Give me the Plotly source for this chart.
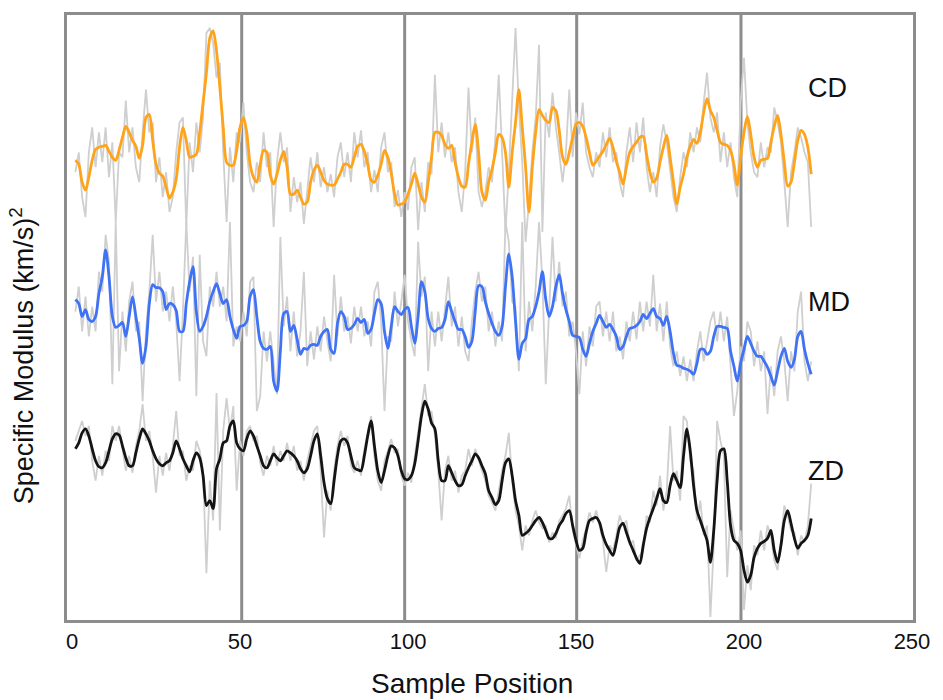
import plotly.graph_objects as go

# Sample positions along the specimen
samples = list(range(1, 221))

# CD direction: raw measurements and smoothed trend
cd_raw = [
    450,
    470, 425, 405, 470, 495, 455, 490, 460, 495, 445,
    480, 400, 470, 465, 522, 470, 495, 455, 440, 490,
    533, 490, 500, 440, 465, 425, 450, 410, 425, 470,
    500, 505, 395, 480, 450, 500, 470, 505, 590, 595,
    580, 545, 560, 470, 400, 475, 440, 490, 480, 520,
    470, 440, 430, 460, 440, 490, 455, 470, 395, 460,
    490, 460, 475, 410, 445, 420, 440, 398, 430, 465,
    440, 470, 435, 455, 430, 448, 425, 465, 480, 445,
    470, 440, 490, 465, 492, 455, 470, 430, 452, 430,
    475, 490, 450, 460, 415, 432, 405, 430, 412, 455,
    465, 392, 440, 410, 460, 448, 548, 470, 500, 465,
    490, 460, 475, 430, 410, 450, 535, 470, 505, 430,
    415, 430, 455, 440, 485, 548, 470, 390, 450, 520,
    595, 515, 460, 380, 420, 470, 505, 578, 390, 510,
    485, 530, 495, 470, 440, 470, 533, 465, 510, 488,
    520, 470, 455, 445, 470, 455, 490, 465, 495, 460,
    470, 440, 425, 470, 495, 460, 500, 470, 505, 455,
    430, 450, 425, 475, 498, 480, 450, 425, 410, 445,
    470, 455, 490, 470, 495, 480, 520, 550, 505, 490,
    510, 460, 490, 455, 480, 445, 425, 520, 565, 500,
    470, 450, 445, 480, 455, 475, 470, 515, 500, 480,
    440, 395, 450, 470, 495, 485, 470, 460, 395,
]
cd_smooth = [
    462,
    458, 440, 432, 445, 462, 473, 475, 476, 477, 471,
    465, 462, 472, 485, 496, 490, 482, 476, 464, 477,
    505, 508, 482, 458, 449, 446, 435, 424, 430, 443,
    475, 495, 482, 465, 466, 468, 490, 520, 550, 585,
    592, 572, 535, 495, 460, 457, 457, 472, 495, 505,
    490, 458, 445, 440, 458, 472, 470, 447, 438, 448,
    462, 471, 455, 428, 428, 432, 425, 418, 420, 440,
    452, 457, 450, 442, 438, 437, 437, 443, 450, 458,
    458, 455, 465, 476, 478, 471, 458, 442, 440, 447,
    458, 472, 465, 449, 428, 417, 418, 420, 428, 438,
    449, 438, 425, 420, 440, 465, 490, 490, 487, 478,
    474, 477, 460, 445, 436, 435, 458, 480, 498, 470,
    430, 422, 440, 453, 470, 488, 485, 470, 435, 470,
    500, 533, 495, 455, 410, 455, 490, 513, 507, 502,
    500, 515, 512, 492, 465, 458, 470, 485, 498, 500,
    496, 485, 470, 457, 461, 466, 471, 478, 484, 475,
    461, 450, 438, 455, 470, 476, 480, 485, 486, 468,
    450, 440, 444, 460, 475, 487, 465, 440, 418, 435,
    448, 465, 476, 483, 479, 490, 510, 524, 512, 505,
    492, 480, 478, 477, 472, 458, 437, 465, 490, 506,
    488, 465, 455, 462, 463, 464, 480, 496, 507, 488,
    460, 436, 440, 460, 482, 492, 488, 475, 448,
]

# MD direction
md_raw = [
    310,
    335, 290, 325, 285, 315, 290, 350, 330, 387, 360,
    237, 400, 250, 310, 270, 320, 340, 290, 300, 220,
    290, 330, 387, 320, 350, 310, 330, 300, 335, 300,
    240, 310, 400, 330, 365, 225, 367, 280, 265, 335,
    315, 350, 315, 335, 300, 400, 275, 295, 280, 310,
    285, 340, 345, 210, 225, 290, 260, 290, 255, 227,
    385, 295, 325, 270, 310, 265, 290, 350, 255, 290,
    262, 295, 270, 305, 280, 260, 347, 285, 325, 290,
    305, 278, 315, 290, 315, 285, 300, 275, 330, 340,
    300, 210, 285, 280, 330, 295, 320, 347, 300, 280,
    265, 380, 325, 345, 250, 310, 275, 310, 280, 315,
    345, 295, 315, 275, 305, 270, 260, 300, 330, 350,
    320, 335, 290, 310, 275, 300, 280, 400, 380, 320,
    315, 250, 400, 270, 320, 290, 335, 400, 340, 237,
    320, 385, 320, 360, 315, 330, 285, 300, 270, 227,
    290, 255, 295, 275, 315, 320, 285, 310, 280, 310,
    270, 285, 262, 300, 280, 310, 282, 320, 290, 320,
    295, 347, 290, 318, 280, 320, 275, 255, 270, 245,
    265, 240, 262, 240, 270, 290, 260, 280, 300, 310,
    280, 310, 280, 305, 250, 205, 230, 275, 260, 300,
    290, 255, 280, 250, 270, 207, 255, 225, 270, 285,
    260, 220, 270, 250, 310, 330, 260, 240, 260,
]
md_smooth = [
    322,
    318, 305, 312, 302, 300, 305, 328, 345, 372, 345,
    305, 294, 296, 299, 285, 305, 325, 305, 283, 258,
    275, 318, 337, 334, 334, 330, 312, 318, 317, 311,
    290, 290, 318, 340, 355, 310, 290, 295, 305, 320,
    330, 338, 328, 318, 322, 305, 292, 283, 295, 296,
    300, 325, 332, 305, 280, 273, 272, 275, 240, 230,
    270, 308, 310, 290, 296, 282, 267, 273, 272, 276,
    277, 276, 285, 290, 292, 272, 268, 298, 310, 305,
    292, 293, 297, 303, 299, 302, 288, 292, 308, 322,
    318, 290, 273, 295, 315, 310, 307, 312, 314, 295,
    278, 305, 340, 330, 303, 293, 290, 293, 294, 302,
    320, 310, 300, 292, 292, 285, 274, 280, 310, 336,
    335, 320, 308, 298, 290, 286, 295, 335, 368, 345,
    300, 262, 278, 283, 302, 305, 315, 330, 350, 322,
    305, 315, 335, 347, 328, 312, 300, 286, 285, 284,
    272, 265, 278, 290, 298, 306, 300, 294, 297, 292,
    285, 272, 275, 285, 293, 294, 296, 300, 307, 303,
    308, 313, 305, 303, 296, 305, 290, 268, 256, 255,
    253, 252, 250, 247, 258, 272, 272, 267, 270, 285,
    295, 295, 294, 293, 270, 255, 240, 258, 272, 285,
    278, 270, 265, 265, 260, 254, 245, 236, 250, 265,
    273, 260, 254, 262, 285, 290, 272, 258, 247,
]

# ZD direction
zd_raw = [
    180,
    190, 200, 185, 195, 160, 140, 165, 145, 170, 160,
    195, 180, 195, 170, 150, 165, 148, 175, 190, 217,
    180, 190, 165, 128, 165, 145, 168, 150, 175, 210,
    165, 170, 140, 155, 150, 180, 170, 150, 47, 140,
    100, 228, 90, 190, 223, 190, 215, 130, 180, 165,
    190, 195, 180, 185, 158, 145, 165, 155, 175, 155,
    170, 160, 178, 160, 175, 150, 160, 140, 160, 175,
    190, 195, 150, 83, 130, 110, 150, 175, 190, 175,
    185, 155, 148, 160, 145, 172, 190, 205, 165, 140,
    130, 160, 170, 182, 168, 172, 145, 135, 148, 138,
    165, 190, 215, 237, 205, 210, 185, 150, 100, 150,
    165, 140, 150, 128, 145, 150, 172, 155, 172, 160,
    150, 140, 125, 118, 110, 130, 150, 165, 188, 140,
    110, 95, 70, 95, 85, 100, 110, 98, 92, 95,
    78, 88, 82, 100, 105, 112, 125, 90, 75, 62,
    80, 92, 108, 98, 110, 95, 80, 48, 75, 70,
    85, 105, 95, 100, 75, 80, 60, 65, 70, 105,
    98, 130, 115, 145, 110, 130, 195, 140, 150, 120,
    205, 200, 160, 150, 100, 120, 85, 95, 3, 75,
    200, 180, 165, 43, 110, 90, 70, 90, 10, 55,
    30, 75, 65, 90, 70, 95, 85, 60, 50, 80,
    115, 105, 90, 88, 65, 85, 78, 95, 137,
]
zd_smooth = [
    172,
    178, 188, 192, 185, 172, 160, 154, 153, 158, 170,
    182, 187, 186, 175, 163, 155, 155, 168, 182, 192,
    187, 180, 170, 162, 157, 155, 158, 160, 168, 180,
    172, 162, 155, 149, 160, 168, 163, 145, 115, 120,
    112, 152, 162, 178, 180, 195, 200, 178, 172, 170,
    182, 190, 185, 175, 165, 155, 153, 160, 167, 163,
    160, 165, 170, 168, 165, 160, 152, 148, 152, 165,
    180, 187, 165, 138, 122, 117, 140, 165, 180, 182,
    178, 165, 153, 151, 150, 165, 185, 200, 175, 150,
    138, 150, 165, 175, 173, 165, 150, 142, 141, 145,
    157, 180, 205, 220, 212, 198, 192, 160, 140, 140,
    155, 148, 140, 135, 136, 145, 153, 160, 167, 163,
    155, 147, 130, 123, 116, 120, 140, 158, 162, 145,
    120, 105, 85, 87, 90, 95, 100, 103, 98, 90,
    82, 82, 87, 95, 100, 107, 110, 95, 80, 70,
    72, 88, 100, 102, 103, 98, 85, 76, 70, 65,
    78, 93, 97, 88, 78, 70, 62, 57, 75, 92,
    103, 112, 122, 132, 120, 118, 135, 147, 140, 133,
    165, 192, 170, 135, 110, 100, 90, 80, 58, 90,
    140, 170, 172, 140, 95, 80, 77, 70, 50, 38,
    45, 63, 72, 77, 79, 82, 90, 70, 58, 75,
    100, 110, 97, 82, 72, 77, 80, 85, 102,
]

directions = ["CD", "MD", "ZD"]
label_heights = [535, 320, 150]
section_breaks = [50.5, 99, 150.2, 199.1]
x_ticks = [0, 50, 100, 150, 200, 250]

raw_series = [cd_raw, md_raw, zd_raw]
smooth_series = [cd_smooth, md_smooth, zd_smooth]
smooth_colors = ["#FFA31A", "#3F72F5", "#141414"]

FONT = "Liberation Sans, Arial, sans-serif"
TEXT = "#111111"

fig = go.Figure()

for raw in raw_series:
    fig.add_trace(go.Scatter(
        x=samples, y=raw, mode="lines",
        line=dict(color="#cfcfcf", width=1.8),
        hoverinfo="skip", showlegend=False,
    ))

for name, smooth, color in zip(directions, smooth_series, smooth_colors):
    fig.add_trace(go.Scatter(
        x=samples, y=smooth, mode="lines", name=name,
        line=dict(color=color, width=2.8, shape="spline", smoothing=0.8),
        showlegend=False,
    ))

for xb in section_breaks:
    fig.add_shape(
        type="line", xref="x", yref="paper",
        x0=xb, x1=xb, y0=0, y1=1,
        line=dict(color="#8c8c8c", width=3), layer="below",
    )

for name, h in zip(directions, label_heights):
    fig.add_annotation(
        x=218.5, y=h, xref="x", yref="y", text=name,
        showarrow=False, xanchor="left", yanchor="middle",
        font=dict(family=FONT, size=27, color=TEXT),
    )

# Axis titles
fig.add_annotation(
    x=0.479, y=0, xref="paper", yref="paper", yshift=-63,
    text="Sample Position", showarrow=False,
    xanchor="center", yanchor="middle",
    font=dict(family=FONT, size=28, color=TEXT),
)
fig.add_annotation(
    x=0, y=0.436, xref="paper", yref="paper", xshift=-45,
    text="Specific Modulus (km/s)<sup>2</sup>", showarrow=False, textangle=-90,
    xanchor="center", yanchor="middle",
    font=dict(family=FONT, size=27, color=TEXT),
)

fig.update_layout(
    width=943, height=700,
    margin=dict(l=67, r=30, t=12, b=80),
    plot_bgcolor="white", paper_bgcolor="white",
    font=dict(family=FONT, color=TEXT),
    showlegend=False,
)
fig.update_xaxes(
    range=[-1.5, 250.3], tickvals=x_ticks,
    showgrid=False, zeroline=False,
    showline=True, mirror=True, linecolor="#8c8c8c", linewidth=3,
    ticks="", tickfont=dict(size=22, color=TEXT),
)
fig.update_yaxes(
    range=[0, 608],
    showgrid=False, zeroline=False, showticklabels=False,
    showline=True, mirror=True, linecolor="#8c8c8c", linewidth=3,
    ticks="",
)

fig.write_html("out.html")
